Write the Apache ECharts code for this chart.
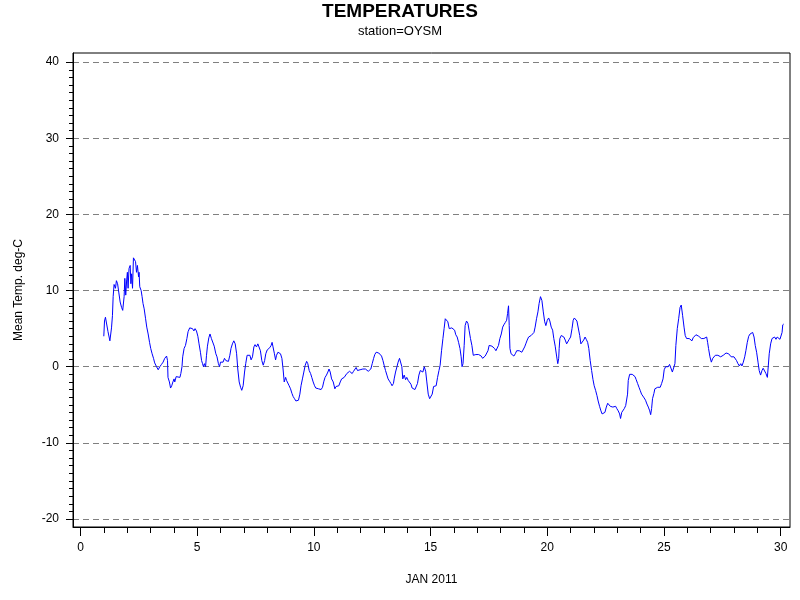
<!DOCTYPE html>
<html><head><meta charset="utf-8">
<script src="https://cdn.jsdelivr.net/npm/echarts@6/dist/echarts.min.js"></script>
<style>html,body{margin:0;padding:0;background:#fff}#c{width:800px;height:600px}</style>
</head><body><div id="c"></div>
<script>
const chartTitle = 'TEMPERATURES';
const chartSubtitle = 'station=OYSM';
const xAxisTitle = 'JAN 2011';
const yAxisTitle = 'Mean Temp. deg-C';
const xMajorTicks = [0, 5, 10, 15, 20, 25, 30];
const yMajorTicks = [-20, -10, 0, 10, 20, 30, 40];
const xMinorTicks = [0,1,2,3,4,5,6,7,8,9,10,11,12,13,14,15,16,17,18,19,20,21,22,23,24,25,26,27,28,29,30];
const yMinorTicks = [-20,-19,-18,-17,-16,-15,-14,-13,-12,-11,-10,-9,-8,-7,-6,-5,-4,-3,-2,-1,0,1,2,3,4,5,6,7,8,9,10,11,12,13,14,15,16,17,18,19,20,21,22,23,24,25,26,27,28,29,30,31,32,33,34,35,36,37,38,39,40];

// day of month (fractional)
const days = [
1.00,1.03,1.07,1.13,1.18,1.26,1.33,1.37,1.40,1.44,
1.47,1.50,1.54,1.59,1.64,1.70,1.76,1.81,1.87,1.90,
1.94,1.98,2.01,2.04,2.08,2.13,2.16,2.19,2.23,2.27,
2.33,2.36,2.40,2.44,2.49,2.51,2.54,2.60,2.64,2.68,
2.73,2.79,2.84,2.90,2.96,3.01,3.07,3.13,3.18,3.26,
3.33,3.40,3.47,3.54,3.61,3.69,3.73,3.75,3.81,3.86,
3.91,3.96,4.01,4.04,4.10,4.18,4.26,4.30,4.35,4.38,
4.44,4.50,4.56,4.61,4.68,4.74,4.80,4.86,4.91,4.97,
5.03,5.08,5.14,5.19,5.23,5.27,5.31,5.36,5.40,5.44,
5.50,5.55,5.61,5.67,5.73,5.80,5.85,5.91,5.96,6.00,
6.06,6.11,6.17,6.23,6.28,6.34,6.40,6.45,6.51,6.57,
6.63,6.69,6.74,6.80,6.86,6.91,6.97,7.03,7.08,7.14,
7.20,7.26,7.31,7.37,7.43,7.48,7.54,7.60,7.65,7.71,
7.77,7.83,7.89,7.94,8.00,8.06,8.11,8.17,8.21,8.25,
8.31,8.36,8.40,8.46,8.51,8.57,8.63,8.68,8.73,8.79,
8.83,8.88,8.94,9.00,9.06,9.11,9.17,9.23,9.28,9.34,
9.40,9.45,9.51,9.57,9.63,9.69,9.74,9.80,9.86,9.91,
9.97,10.03,10.08,10.14,10.20,10.26,10.31,10.37,10.43,10.48,
10.54,10.60,10.65,10.70,10.76,10.83,10.90,10.95,11.01,11.07,
11.13,11.19,11.24,11.30,11.36,11.41,11.47,11.53,11.58,11.64,
11.70,11.76,11.81,11.87,11.93,11.98,12.04,12.10,12.15,12.21,
12.27,12.33,12.39,12.44,12.50,12.56,12.61,12.67,12.73,12.78,
12.84,12.90,12.96,13.01,13.07,13.13,13.18,13.24,13.30,13.35,
13.41,13.44,13.50,13.56,13.61,13.67,13.73,13.77,13.81,13.87,
13.93,13.98,14.04,14.10,14.16,14.21,14.27,14.33,14.38,14.44,
14.50,14.56,14.61,14.67,14.73,14.79,14.84,14.90,14.96,15.01,
15.07,15.13,15.18,15.24,15.30,15.36,15.41,15.47,15.53,15.58,
15.63,15.69,15.74,15.80,15.86,15.91,15.97,16.03,16.08,16.14,
16.20,16.26,16.31,16.35,16.39,16.44,16.48,16.54,16.60,16.65,
16.71,16.77,16.83,16.89,16.94,17.00,17.06,17.11,17.17,17.23,
17.28,17.34,17.40,17.46,17.51,17.57,17.63,17.68,17.74,17.80,
17.85,17.91,17.97,18.03,18.09,18.14,18.20,18.26,18.30,18.34,
18.37,18.40,18.45,18.51,18.57,18.63,18.69,18.74,18.80,18.86,
18.91,18.97,19.03,19.08,19.14,19.20,19.26,19.31,19.37,19.43,
19.48,19.54,19.60,19.65,19.71,19.77,19.83,19.89,19.94,20.00,
20.06,20.11,20.17,20.23,20.28,20.34,20.40,20.45,20.49,20.51,
20.54,20.60,20.66,20.71,20.77,20.83,20.89,20.94,21.00,21.06,
21.11,21.16,21.21,21.27,21.33,21.39,21.44,21.50,21.56,21.62,
21.67,21.73,21.78,21.84,21.90,21.96,22.01,22.07,22.13,22.18,
22.24,22.30,22.35,22.41,22.47,22.53,22.59,22.64,22.70,22.76,
22.81,22.87,22.93,22.98,23.04,23.10,23.14,23.19,23.24,23.30,
23.36,23.41,23.44,23.47,23.53,23.59,23.64,23.70,23.76,23.81,
23.87,23.93,23.98,24.04,24.10,24.15,24.21,24.27,24.33,24.39,
24.43,24.47,24.51,24.57,24.61,24.67,24.73,24.78,24.84,24.90,
24.96,25.01,25.07,25.13,25.18,25.24,25.30,25.36,25.42,25.47,
25.51,25.57,25.63,25.69,25.74,25.80,25.86,25.91,25.97,26.03,
26.08,26.14,26.20,26.25,26.31,26.37,26.43,26.49,26.54,26.60,
26.66,26.71,26.77,26.83,26.87,26.91,26.97,27.03,27.09,27.14,
27.20,27.26,27.31,27.37,27.43,27.48,27.54,27.60,27.66,27.71,
27.77,27.83,27.88,27.94,28.00,28.05,28.11,28.17,28.23,28.29,
28.34,28.40,28.46,28.51,28.57,28.63,28.69,28.74,28.80,28.86,
28.91,28.97,29.03,29.08,29.14,29.20,29.25,29.31,29.37,29.43,
29.47,29.51,29.57,29.63,29.68,29.74,29.80,29.85,29.91,29.97,
30.03,30.06,30.09,30.13
];

// mean temperature, deg C
const temps = [
4.0,6.0,6.5,6.3,4.6,3.4,5.1,6.7,9.2,10.8,
11.0,10.3,11.3,10.9,9.8,8.5,7.8,7.4,9.2,11.6,
9.4,11.4,12.4,10.3,12.9,13.3,10.9,12.2,10.3,14.3,
14.2,13.8,12.4,13.3,11.8,12.4,10.5,10.0,9.2,8.3,
7.6,6.3,5.2,4.3,3.2,2.4,1.7,1.1,0.5,0.0,
-0.4,0.0,0.3,0.6,1.1,1.4,0.8,-1.4,-2.0,-2.8,
-2.5,-2.0,-1.6,-2.0,-1.3,-1.3,-1.4,-0.9,0.0,1.3,
2.4,2.8,3.7,4.6,5.1,4.9,5.0,4.7,5.0,4.7,
4.0,3.0,1.9,0.8,0.4,0.0,0.4,0.0,1.5,2.7,
3.8,4.3,3.7,3.7,2.7,1.7,1.3,0.4,0.0,0.6,
0.8,0.6,1.1,0.8,0.9,0.7,1.5,2.4,3.0,3.4,
3.0,1.7,-0.3,-2.0,-2.7,-3.1,-2.5,-0.7,0.4,1.5,
1.7,1.5,0.9,1.3,2.6,2.9,2.6,3.0,2.8,2.1,
0.8,0.2,0.8,1.7,2.2,2.2,2.5,2.8,3.2,2.6,
1.7,0.9,1.5,1.9,2.1,1.7,1.1,-0.3,-2.0,-1.4,
-1.8,-2.0,-2.5,-2.9,-3.5,-3.9,-4.2,-4.5,-4.7,-4.4,
-3.6,-2.5,-1.6,-0.7,0.2,0.7,0.4,-0.5,-0.9,-1.4,
-2.0,-2.5,-2.8,-2.9,-2.9,-3.0,-3.0,-2.7,-1.9,-1.4,
-1.1,-0.7,-0.3,-0.7,-1.6,-2.0,-2.9,-2.6,-2.5,-2.5,
-2.0,-1.6,-1.4,-1.4,-1.3,-0.9,-0.7,-0.6,-0.7,-0.9,
-0.6,-0.4,-0.1,-0.5,-0.6,-0.4,-0.3,-0.3,-0.3,-0.3,
-0.4,-0.6,-0.7,-0.3,0.4,1.1,1.6,1.9,2.1,1.8,
1.6,1.4,0.8,0.2,-0.5,-1.1,-1.6,-1.9,-2.2,-2.5,
-2.2,-1.6,-0.7,0.0,0.6,1.1,1.2,0.0,-1.6,-1.1,
-1.7,-1.4,-1.8,-2.0,-2.3,-2.8,-2.9,-3.0,-3.1,-2.2,
-1.1,-0.5,-0.6,-0.7,0.0,-0.6,-2.0,-3.6,-4.2,-4.2,
-3.6,-2.6,-2.6,-2.5,-1.4,-0.5,0.2,2.1,3.7,5.0,
6.3,6.5,5.9,5.0,4.8,5.1,5.2,4.8,4.2,3.9,
3.2,2.4,1.3,0.0,0.4,2.8,5.4,6.0,5.7,4.8,
3.7,2.8,1.5,1.3,1.6,1.7,1.6,1.6,1.4,1.1,
1.3,1.4,1.5,2.1,2.8,3.0,2.7,2.6,2.4,2.1,
2.1,2.8,3.7,4.3,5.2,5.5,5.8,6.1,7.0,8.0,
5.4,2.4,1.7,1.5,1.4,1.7,2.1,2.3,2.1,2.1,
1.9,2.0,2.6,3.0,3.5,3.9,4.0,4.1,4.3,4.5,
5.2,6.3,7.2,8.3,9.2,8.7,7.2,5.9,5.4,6.1,
6.4,6.0,5.2,4.8,3.7,2.7,1.4,0.4,1.1,2.4,
3.7,4.1,4.2,3.9,3.5,3.0,3.2,3.6,3.9,5.0,
6.1,6.4,6.2,6.0,5.9,4.1,3.0,3.2,3.5,3.9,
3.6,3.2,2.4,0.8,-0.5,-1.7,-2.5,-3.1,-3.8,-4.5,
-5.2,-5.8,-6.2,-6.3,-6.0,-5.3,-4.8,-4.9,-5.2,-5.4,
-5.3,-5.1,-5.2,-5.5,-5.8,-6.2,-6.8,-6.0,-5.8,-5.5,
-5.1,-4.9,-3.6,-1.8,-1.0,-1.1,-1.0,-1.0,-1.3,-1.7,
-2.2,-2.7,-3.1,-3.6,-3.6,-4.1,-4.4,-4.9,-5.3,-5.8,
-6.3,-5.5,-4.2,-3.5,-2.9,-2.8,-2.7,-2.5,-2.7,-2.2,
-1.6,-0.4,0.0,-0.1,0.0,0.3,0.5,-0.7,-0.9,0.4,
2.8,5.0,6.3,7.8,8.1,6.7,5.2,4.1,3.7,3.6,
3.7,3.8,3.4,3.8,4.0,4.2,4.3,4.0,3.8,3.7,
3.6,3.7,3.9,3.9,3.2,2.4,1.3,0.6,1.1,1.3,
1.5,1.7,1.5,1.3,1.3,1.4,1.5,1.6,1.8,1.9,
1.7,1.5,1.3,1.1,1.3,1.1,0.8,0.4,0.1,0.4,
0.1,0.6,1.3,2.1,3.2,4.0,4.3,4.5,4.5,3.9,
2.8,1.9,0.6,-0.5,-1.1,-0.5,-0.2,-0.4,-0.9,-1.4,
0.1,1.7,3.0,3.7,3.8,3.9,3.6,3.9,3.7,3.6,
3.7,4.5,5.5,5.6
];

const FONT = '"Liberation Sans", Arial, sans-serif';
const seriesData = days.map((d, i) => [d, temps[i]]);
const X_MIN = -0.32, X_MAX = 30.4, Y_MIN = -21.05, Y_MAX = 41.2;

const chart = echarts.init(document.getElementById('c'), null, { renderer: 'canvas' });
chart.setOption({
  animation: false,
  backgroundColor: '#ffffff',
  title: [
    { text: chartTitle, left: 'center', top: -3,
      textStyle: { fontSize: 19, fontWeight: 'bold', color: '#000', fontFamily: FONT } },
    { text: chartSubtitle, left: 'center', top: 20,
      textStyle: { fontSize: 13, fontWeight: 'normal', color: '#000', fontFamily: FONT } }
  ],
  grid: { left: 73, right: 10, top: 53, bottom: 73, show: true,
          borderColor: '#000', borderWidth: 1, backgroundColor: 'transparent' },
  xAxis: [
    { type: 'value', min: X_MIN, max: X_MAX, position: 'bottom',
      axisLine: { show: true, onZero: false, lineStyle: { color: '#000', width: 1 } },
      axisTick: { show: true, customValues: xMajorTicks, length: 9, lineStyle: { color: '#000' } },
      axisLabel: { show: true, customValues: xMajorTicks, margin: 15, color: '#000', fontSize: 12, fontFamily: FONT },
      splitLine: { show: false },
      name: xAxisTitle, nameLocation: 'middle', nameGap: 47,
      nameTextStyle: { color: '#000', fontSize: 12, fontFamily: FONT } },
    { type: 'value', min: X_MIN, max: X_MAX, position: 'bottom',
      axisLine: { show: false, onZero: false },
      axisTick: { show: true, customValues: xMinorTicks, length: 6, lineStyle: { color: '#000' } },
      axisLabel: { show: false },
      splitLine: { show: false } }
  ],
  yAxis: [
    { type: 'value', min: Y_MIN, max: Y_MAX, position: 'left',
      axisLine: { show: true, onZero: false, lineStyle: { color: '#000', width: 1 } },
      axisTick: { show: true, customValues: yMajorTicks, length: 7, lineStyle: { color: '#000' } },
      axisLabel: { show: true, customValues: yMajorTicks, margin: 14, color: '#000', fontSize: 12, fontFamily: FONT },
      splitLine: { show: true, lineStyle: { color: '#808080', width: 1, type: [6, 4] } },
      name: yAxisTitle, nameLocation: 'middle', nameGap: 48, nameRotate: 90,
      nameTextStyle: { color: '#000', fontSize: 12, fontFamily: FONT } },
    { type: 'value', min: Y_MIN, max: Y_MAX, position: 'left',
      axisLine: { show: false, onZero: false },
      axisTick: { show: true, customValues: yMinorTicks, length: 4, lineStyle: { color: '#000' } },
      axisLabel: { show: false },
      splitLine: { show: false } }
  ],
  series: [{
    type: 'line', xAxisIndex: 0, yAxisIndex: 0, data: seriesData,
    symbol: 'none', showSymbol: false, smooth: false,
    lineStyle: { color: '#0000ff', width: 1 }
  }]
});
</script>
</body></html>
